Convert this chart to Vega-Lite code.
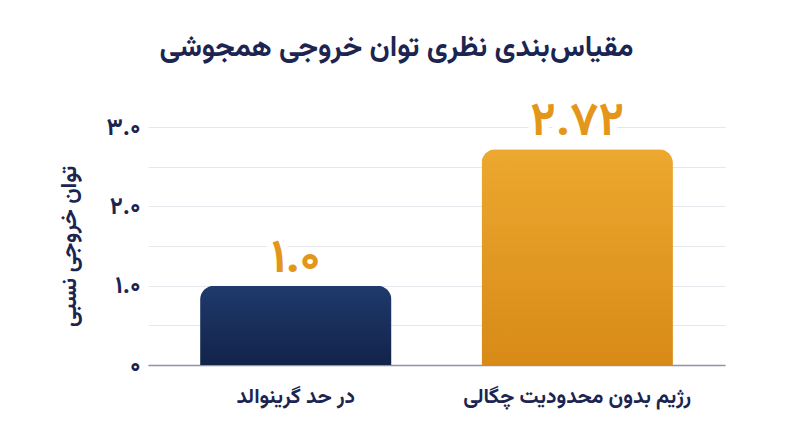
{
  "$schema": "https://vega.github.io/schema/vega-lite/v6.json",
  "width": 577,
  "height": 238,
  "autosize": "none",
  "padding": {"left": 148, "top": 127, "right": 75, "bottom": 82},
  "background": "white",
  "config": {
    "font": "Vazirmatn, Noto Sans Arabic, DejaVu Sans",
    "view": {"stroke": null}
  },
  "title": {
    "text": "مقیاس‌بندی نظری توان خروجی همجوشی",
    "fontSize": 29,
    "fontWeight": "bold",
    "color": "#1b2550",
    "anchor": "middle",
    "dx": -40,
    "offset": 35
  },
  "data": {
    "values": [
      {"regime": "در حد گرینوالد", "power": 1.0, "label": "۱.۰"},
      {"regime": "رژیم بدون محدودیت چگالی", "power": 2.72, "label": "۲.۷۲"}
    ]
  },
  "encoding": {
    "x": {
      "field": "regime",
      "type": "nominal",
      "sort": null,
      "scale": {"paddingInner": 0.32, "paddingOuter": 0.185},
      "axis": {
        "title": null,
        "labelAngle": 0,
        "labelFontSize": 21,
        "labelFontWeight": "bold",
        "labelColor": "#1b2550",
        "labelPadding": 20,
        "labelLimit": 0,
        "ticks": false,
        "domainColor": "#8e93a6",
        "domainWidth": 1.5,
        "grid": false
      }
    },
    "y": {
      "field": "power",
      "type": "quantitative",
      "scale": {"domain": [0, 3], "nice": false},
      "axis": {
        "title": "توان خروجی نسبی",
        "titleFontSize": 22,
        "titleFontWeight": "bold",
        "titleColor": "#1b2550",
        "titlePadding": 25,
        "values": [0, 0.5, 1, 1.5, 2, 2.5, 3],
        "labelExpr": "datum.value == 0 ? '۰' : datum.value == 1 ? '۱.۰' : datum.value == 2 ? '۲.۰' : datum.value == 3 ? '۳.۰' : ''",
        "labelFontSize": 24,
        "labelFontWeight": "bold",
        "labelColor": "#1b2550",
        "labelPadding": 8,
        "ticks": false,
        "domain": false,
        "gridColor": "#e6e7ec",
        "gridWidth": 1.2
      }
    }
  },
  "layer": [
    {
      "mark": {
        "type": "bar",
        "cornerRadiusTopLeft": 14,
        "cornerRadiusTopRight": 14
      },
      "encoding": {
        "color": {
          "condition": {
            "test": "datum.power < 2",
            "value": {
              "gradient": "linear", "x1": 0, "y1": 0, "x2": 0, "y2": 1,
              "stops": [{"offset": 0, "color": "#1f3a6c"}, {"offset": 1, "color": "#13234a"}]
            }
          },
          "value": {
            "gradient": "linear", "x1": 0, "y1": 0, "x2": 0, "y2": 1,
            "stops": [{"offset": 0, "color": "#eca82f"}, {"offset": 1, "color": "#d88a17"}]
          }
        }
      }
    },
    {
      "mark": {
        "type": "text",
        "fontSize": 47,
        "fontWeight": "bold",
        "baseline": "alphabetic",
        "dy": -14,
        "color": "white",
        "stroke": "white",
        "strokeWidth": 14
      },
      "encoding": {"text": {"field": "label"}}
    },
    {
      "mark": {
        "type": "text",
        "fontSize": 47,
        "fontWeight": "bold",
        "baseline": "alphabetic",
        "dy": -14,
        "color": "#e3961a"
      },
      "encoding": {"text": {"field": "label"}}
    }
  ]
}
